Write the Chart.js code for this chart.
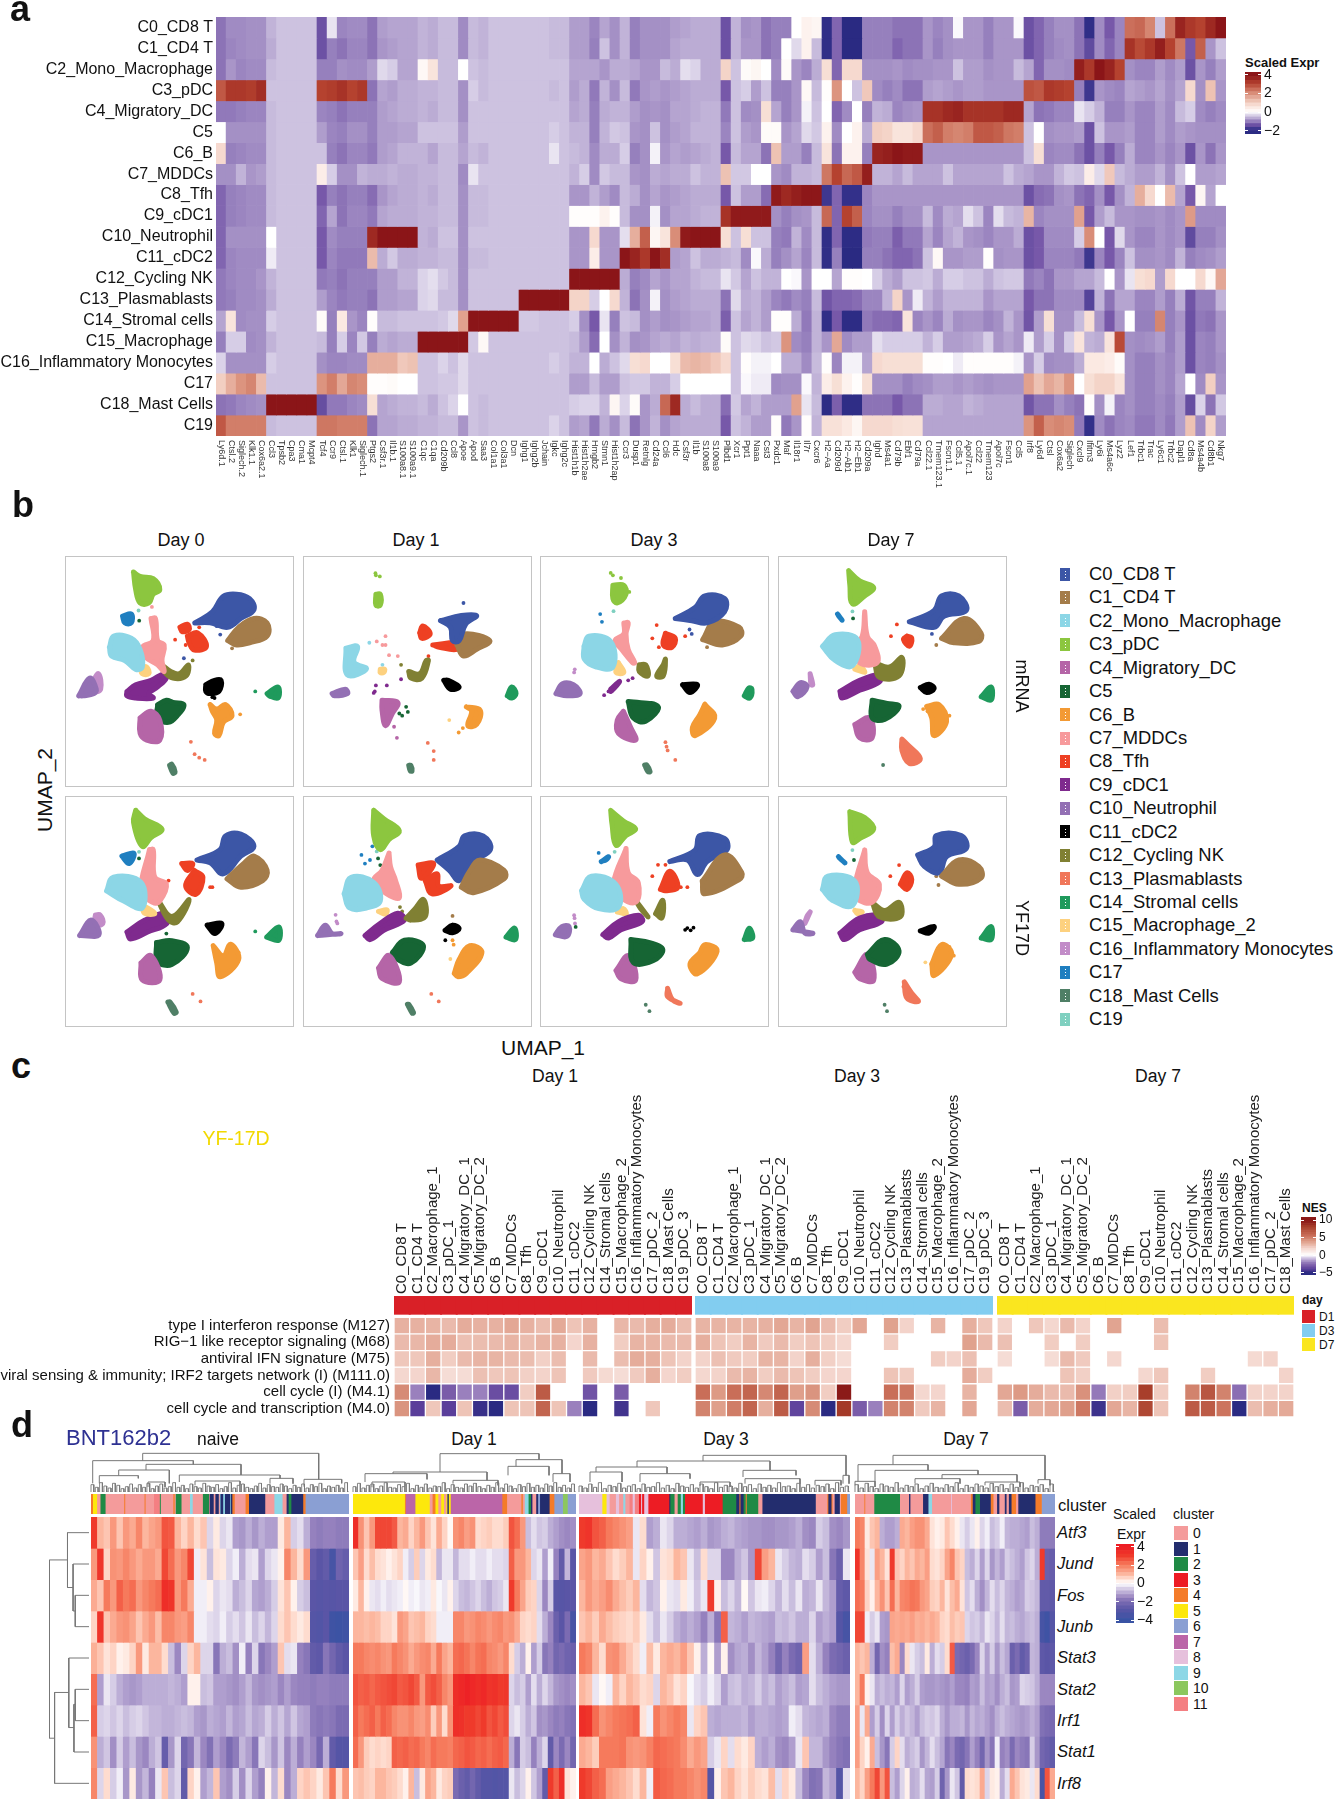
<!DOCTYPE html>
<html><head><meta charset="utf-8"><title>Single-cell figure</title>
<script src="https://cdn.jsdelivr.net/npm/chart.js@4"></script>
<style>
html,body{margin:0;padding:0;background:#fff}
body{position:relative;width:1335px;height:1800px;overflow:hidden;font-family:"Liberation Sans",Arial,sans-serif;color:#111}
.t{position:absolute;white-space:nowrap;line-height:1}
.b{position:absolute}
.c{position:absolute}
.c canvas{display:block}
</style></head><body>
<script>
/* ---------- panel a ---------- */
const clusterNames=["C0_CD8 T","C1_CD4 T","C2_Mono_Macrophage","C3_pDC","C4_Migratory_DC","C5","C6_B","C7_MDDCs","C8_Tfh","C9_cDC1","C10_Neutrophil","C11_cDC2","C12_Cycling NK","C13_Plasmablasts","C14_Stromal cells","C15_Macrophage","C16_Inflammatory Monocytes","C17","C18_Mast Cells","C19"];
const genes=["Ly6d.1","Ctsl.2","Siglech.2","Klk1.1","Cox6a2.1","Ccl3","Tpsb2","Cpa3","Cma1","Mcpt4","Tcf4","Ccr9","Ctsl.1","Klk1","Siglech.1","Ptgs2","Csf3r.1","Il1b.1","S100a8.1","S100a9.1","C1qc","C1qa","Cd209b","Ccl8","Apoe","Apod","Saa3","Col1a1","Col3a1","Dcn","Ighg1","Ighg2b","Jchain","Igkc","Ighg2c","Hist1h1b","Hist1h2ae","Hmgb2","Stmn1","Hist1h2ap","Ccr3","Dusp1","Retnlg","Cd24a","Ccl6","Hdc","Csf3r","Il1b","S100a8","S100a9","Plbd1","Xcr1","Ppt1","Naaa","Cst3","Pxdc1","Maf","Il18r1","Il7r","Cxcr6","H2−Aa","Cd209d","H2−Ab1","H2−Eb1","Cd209a","Ighd","Ms4a1","Cd79b","Ebf1","Cd79a","Ccl22.1","Tmem123.1","Fscn1.1","Ccl5.1","Apol7c.1","Ccl22","Tmem123","Apol7c","Fscn1","Ccl5","Irf8","Ly6d","Ctsl","Cox6a2","Siglech","Cxcl9","Ifitm3","Ly6i","Ms4a6c","Lyz2","Lef1","Trbc1","Trac","Ly6c1","Trbc2","Dapl1","Cd8a","Ms4a4b","Cd8b1","Nkg7"];
const exprC0=[-1.1,-.9,-.9,-.85,-.85,-.6,-.5,-.5,-.5,-.5,-1.4,-.2,-.95,-.9,-.9,-1.1,-.75,-.7,-.7,-.7,-.6,-.65,-.55,-.55,-.9,-.55,-.6,-.5,-.5,-.5,-.5,-.5,-.5,-.55,-.55,-.75,-.75,-.95,-.7,-.85,-.6,-1,-.85,-.85,-.85,-.75,-.7,-.65,-.65,-.65,-1.4,-.6,-.85,-.8,-1.1,-1,-1,0,.3,.2,-2,-1.2,-2.2,-2.2,-1,-1,-1,-1.1,-1.1,-1.1,-.8,-.95,-.85,-.05,-.8,-.8,-1,-.8,-.8,-.05,-1.4,-1.2,-1,-.85,-.85,-1.1,-2,-.9,-1.3,-.95,2.4,2.5,2.1,-.5,2.4,3.6,3.2,3,3.5,3.9];
const exprC1=[-1.1,-.95,-.9,-.85,-.85,-.65,-.5,-.5,-.5,-.5,-1.4,-1,-1.1,-.95,-.95,-1.1,-.8,-.75,-.7,-.7,-.6,-.65,-.55,-.55,-.9,-.55,-.6,-.5,-.5,-.5,-.5,-.5,-.5,-.55,-.55,-.75,-.75,-1,-.5,-.85,-.6,-1,-.85,-.85,-.85,-.7,-.65,-.65,-.65,-.65,-1.4,-.6,-.8,-.8,-1.1,-1,0,-.3,.3,-.55,-2,-1.2,-2.2,-2.2,-1,-1,-1,-1.2,-1.1,-1.1,-.8,-1,-.85,-.8,-.8,-.8,-1,-.8,-.8,-.8,-1.4,-1.2,-1,-.9,-.85,-1.1,-1.5,-.9,-1.2,-.95,3.3,2.9,3.2,3.7,3,2.3,-1.3,2.6,-.8,-.5];
const exprC2=[-1.1,-.8,-.95,-.9,-.9,-.55,-.5,-.5,-.5,-.5,-1,-1,-.85,-.9,-.9,-.75,-.3,-.4,-.7,-.7,.15,.6,-.55,-.55,0,-.5,-.55,-.5,-.5,-.5,-.5,-.5,-.5,-.5,-.5,-.7,-.7,-.7,-.8,-.65,-.65,-.7,-.8,-.8,-.55,-.65,-.25,-.35,-.65,-.65,.9,-.5,.1,.2,0,-.9,.1,-.8,-.95,-.65,.7,-1.2,.8,.8,-.85,-.85,-.85,-.8,-.9,-.85,-.85,-.8,-.8,-.5,-.75,-.75,-.85,-.8,-.8,-.55,-.7,-1.2,-.85,-.85,-.9,3.7,3.2,3.9,3.6,3,-.85,-.95,-.95,-.75,-.9,-.75,-1.4,-.8,-1,-.75];
const exprC3=[2.7,3.2,3.2,3.1,3.4,-.5,-.5,-.5,-.5,-.5,3,3.1,3.3,3,3.2,-1.1,-.7,-.75,-.65,-.65,-.6,-.6,-.55,-.55,-.85,-.4,-.55,-.5,-.5,-.5,-.5,-.5,-.5,-.55,-.5,-.75,-.65,-1.05,-.6,-.85,-.55,-1.05,-.8,-.75,-.8,-.75,-.7,-.65,-.65,-.65,-1.3,-.5,-.4,-.75,-.5,-1,-1,-.8,.15,-.55,.05,1.9,0,-.5,1.1,-.9,-1,-.9,-1.1,-1.1,-.75,-.7,-.75,-.8,-.75,-.75,-.8,-.8,-.8,-.8,2.8,2.7,3.2,3.1,3,-1,-1.8,-.8,-.9,-.95,-.7,-.75,-.8,-.7,-.85,-.7,.8,-.85,1.2,-.8];
const exprC4=[-1.05,-1.05,-1,-.95,-.95,-.55,-.5,-.5,-.5,-.5,-.95,-1,-1.1,-1,-1,-1,-.75,-.7,-.65,-.65,-.6,-.65,-.55,-.55,-.85,-.5,-.5,-.5,-.5,-.5,-.5,-.5,-.5,-.5,-.5,-.7,-.65,-1,-.65,-.6,-.6,-.75,-.85,-.8,-.85,-.7,-.7,-.65,-.6,-.6,-1.05,-.5,-.9,-.85,.7,-.7,-1,-.8,-.1,-.5,0,-1.2,-.9,0,-1,-.6,-.65,-.95,-.85,-.8,3.3,3.3,3.5,3.6,3.3,3.3,3.3,3.3,3.5,3.5,-.7,-1.1,-1.05,-.95,-.95,-.2,-.4,-.6,-1,-1,-.8,-.95,-.95,-.75,-.9,-.55,-.4,-.9,-1,-.9];
const exprC5=[0,-.85,-.85,-.85,-.85,-.55,-.5,-.5,-.5,-.5,-.75,-.95,-1,-.85,-.85,-1,-.75,-.75,-.7,-.7,-.5,-.5,-.5,-.5,-.75,-.5,-.5,-.5,-.5,-.5,-.5,-.5,-.5,-.4,-.5,-.6,-.6,-1,-.6,-.45,-.5,-.8,-.85,-.5,-.85,-.75,-.7,-.6,-.6,-.6,-.95,-.5,-.75,-.8,.1,.1,-.8,-.7,-.3,-.45,.3,-.9,0,.3,-.65,1,.9,.6,.6,.8,2.4,2.6,2.2,2.1,2.2,2.7,2.7,2.6,2.3,2.2,-.5,0,-.85,-.8,-.8,-.75,-1.4,-.5,-.8,-.8,-.75,-.95,-.95,-.75,-.9,-.75,-.8,-.85,-.85,-.85];
const exprC6=[.8,-1,-.95,-.9,-.9,-.55,-.5,-.5,-.5,-.5,-.5,-1,-1.1,-.95,-.95,-1.05,-.75,-.7,-.6,-.6,-.6,-.7,-.55,-.55,-.7,-.55,-.6,-.5,-.5,-.5,-.5,-.5,-.5,-.2,-.5,-.55,-.6,-.9,-.65,-.65,-.4,-1,-.85,-.1,-.8,-.7,-.75,-.7,-.65,-.6,-1.3,-.55,-.7,-.7,-1.1,1.2,-.75,-.75,-1,-.55,.6,-1.1,.3,.3,-1,3.6,3.7,3.9,3.8,3.8,-.8,-.8,-.8,-.8,-.8,-.8,-.8,-.8,-.8,-.8,-.5,.7,-.95,-.9,-.9,-1.1,-1.4,-1,-1.3,-1,-.65,-.95,-.95,-.8,-.95,-.8,-1.4,-.8,-1.1,-.8];
const exprC7=[-.85,-.85,-.6,-.8,-.75,-.55,-.5,-.5,-.5,-.5,.4,-.4,-.85,-.85,-.6,-.65,-.65,-.6,-.65,-.65,-.6,-.6,-.55,-.55,-.9,-.2,-.5,-.5,-.5,-.5,-.5,-.5,-.5,-.5,-.5,-.6,-.4,-.9,-.45,-.55,-.55,-.8,-.85,-.65,-.7,-.65,-.65,-.5,-.6,-.6,1.2,-.45,-.45,0,0,-.8,-.9,-.6,-.6,-.55,2.3,3,2.5,2.7,3.7,-.6,-.6,-.7,-.55,-.7,-.7,-.7,-.5,-.7,-.7,-.7,-.7,-.7,-.5,-.65,-.7,-.8,-.8,-.6,-.45,-.5,.4,-.3,1.1,-.55,-.65,-.75,-.75,-.6,-.85,-.5,0,-.75,-.75,-.7];
const exprC8=[-1.2,-1,-.95,-.9,-.9,-.55,-.5,-.5,-.5,-.5,-1.3,-1,-1.1,-1,-1,-1.15,-.8,-.7,-.65,-.65,-.6,-.65,-.55,-.55,-.85,-.55,-.55,-.5,-.5,-.5,-.5,-.5,-.5,-.5,-.5,-.8,-.8,-.6,-.75,-.9,-.55,-.65,-.85,-.7,-.8,-.75,-.7,-.65,-.65,-.65,-1.3,-.5,-.75,-.75,-1.15,3.8,3.5,3.7,3.85,3.85,-1.8,-1.2,-1.9,-1.9,-.95,-.8,-.8,-.8,-.8,-.8,-.8,-.8,-.8,-.8,-.8,-.8,-.8,-.8,-.8,-.8,-1.4,-1.15,-1.1,-.85,-.8,-1.1,-1.2,-.85,-1.3,-.85,-.6,1.5,.8,0,1.3,-.7,-1.3,.2,-.7,0];
const exprC9=[-1.2,-1,-.95,-.9,-.9,-.55,-.5,-.5,-.5,-.5,-1.2,-.7,-1.1,-.95,-.95,-1.05,-.7,-.65,-.65,-.65,-.6,-.6,-.55,-.55,-.85,-.55,-.55,-.5,-.5,-.5,-.5,-.5,-.5,-.5,-.5,.05,.05,.05,.3,.05,-.55,-.85,-.85,-.1,-.85,-.7,-.7,-.65,-.6,-.6,3.3,3.8,3.8,3.8,3.8,-.85,-1,-.85,-.8,-.55,2.5,-1.2,3,2.6,-.95,-.85,-.85,-1,-.85,-.85,-.55,-.9,-.65,-.7,-.25,-.5,-.95,-.25,-.55,-.6,1.4,-.95,-.85,-.85,-.85,1.7,-1.3,-.75,-.55,-.8,-.8,-.85,-.85,-.8,-.9,-.8,1.8,-.9,-.9,-.9];
const exprC10=[-1.2,-.85,-.85,-.85,-.85,0,-.5,-.5,-.5,-.5,-1.3,-.9,-1,-1,-1,3.5,3.9,3.9,3.9,3.9,-.6,-.65,-.5,-.5,-.85,-.5,-.5,-.5,-.5,-.5,-.5,-.5,-.5,-.5,-.5,-.8,-.8,.8,-.8,-.8,-.25,1.5,2.6,.2,.6,2,3.8,3.9,3.9,3.9,.7,-.5,.7,-.5,-.5,-1,-1.05,-.6,-.9,-.55,-2,-1.2,-2.1,-2.1,-1.05,-1,-1,-1.25,-1.05,-1.05,-.7,-.95,-.7,-.6,-.8,-.85,-.95,-.8,-.8,-.65,-1.4,-1.3,-.9,-.9,-.9,-.4,2,0,-1.3,-.3,-.8,-.95,-.95,-.8,-.9,-.8,-1.5,-1,-1,-.85];
const exprC11=[-1.2,-.95,-.9,-.9,-.9,-.15,-.5,-.5,-.5,-.5,-1.3,-.95,-1.05,-1.05,-1.05,1.3,-.65,-.45,-.65,-.65,-.6,-.6,-.55,-.55,-.85,-.55,-.55,-.5,-.5,-.5,-.5,-.5,-.5,-.5,-.5,-.8,-.8,.4,-.8,-.8,3.9,3.6,3.2,3.9,3.4,-.75,-.7,-.5,-.65,-.65,-.6,-.55,-.9,-.05,-.65,-1,-.85,-.7,-.95,-.55,-2,-1,-2.2,-2.2,-1,-1,-1.1,-1.2,-1.2,-1.1,-.5,.15,-.8,-.8,-.75,-.75,.05,-.85,-.8,-.8,-1.4,-1.3,-.95,-.95,-.95,-1.05,-1.8,-.95,-1.3,-.95,-.5,-.85,-.85,-.8,-.9,-.6,-1,-.9,-.85,-.75];
const exprC12=[-1.05,-.95,-.9,-.9,-.8,-.6,-.5,-.5,-.5,-.5,-1.05,-1,-1.1,-1,-1,-1,-.75,-.75,-.6,-.6,-.35,-.25,-.45,-.55,-.85,-.5,-.5,-.5,-.5,-.5,-.5,-.5,-.5,-.5,-.5,3.9,3.9,3.9,3.9,3.9,-.65,-1,-.9,-.7,-.8,-.7,-.7,-.6,-.55,-.55,-.2,-.45,-.7,-.5,-.6,-.6,0,-.05,-.8,0,0,-.7,.05,.05,0,-.4,-.65,-.75,-.5,-.5,-.45,-.65,-.4,-.4,-.5,-.5,-.65,-.5,-.45,-.45,-1.05,-.95,-1.1,-.8,-.8,-.7,-.7,-.55,0,-.8,-.2,.7,.8,-.75,.8,0,0,.8,.15,1.6];
const exprC13=[-1.05,-1,-.9,-.9,-.85,-.65,-.5,-.5,-.5,-.5,-.75,-.95,-1.05,-1,-1,-1.1,-.75,-.75,-.7,-.7,-.35,-.3,-.55,-.55,-.85,-.5,-.5,-.5,-.5,-.5,3.9,3.9,3.9,3.9,3.9,.9,.9,-.4,0,.8,-.6,-1.1,-.85,-.1,-.85,-.75,-.7,-.65,-.65,-.65,-1.1,-.3,-.65,-.6,-.75,-.95,-1.05,-.9,-1,-.55,-1.35,-1.2,-1.2,-1.15,-.95,-.95,-.6,.9,-.8,-.15,-.6,-.75,-.6,-.6,-.6,-.6,-.8,-.7,-.7,-.7,-1.3,-1.1,-1.1,-.9,-.9,-.9,-1.6,-.6,-1.1,-.7,-.7,-.95,-.95,-.75,-1,-.65,-1.35,-1,-1,-.6];
const exprC14=[-.7,.6,-.9,-.85,-.85,-.4,-.5,-.5,-.5,-.5,.1,-1,.5,-.8,-.95,.05,-.55,-.55,-.5,-.5,-.5,-.5,-.45,-.3,1.7,3.9,3.9,3.9,3.9,3.9,-.45,-.45,-.5,-.5,-.5,-.4,-.85,-1.3,-.2,-1,-.5,-.55,-.85,-.75,-.85,-.8,-.75,-.7,-.7,-.65,-1.25,-.5,-.7,-.6,-.75,.05,.05,-.65,-1.05,-.6,-2,-1.3,-2.1,-2.1,-1.05,-1.15,-1.15,-1.2,.6,-.95,-.8,-.95,-.65,-.85,-.8,-.8,-.95,-.85,-.6,-.8,-1.35,-.75,.7,-.85,-.85,-.55,.7,-.8,-1.3,-.8,0,-1,-1,2.1,-1,-.8,-1.4,-1.05,-1.1,-.8];
const exprC15=[-1,-.4,-.4,-.9,-.85,-.6,-.5,-.5,-.5,-.5,-.55,-1,-.4,-.95,-.45,-1,-.65,-.7,-.65,-.65,3.9,3.9,3.9,3.9,3.9,-.45,.15,-.5,-.5,-.5,-.5,-.5,-.5,-.5,-.5,-.55,-.75,-1.15,0,-.85,-.6,-.85,-.8,-.7,-.65,-.7,-.6,-.65,-.6,-.6,.1,-.5,-.3,-.35,-.5,-.45,1.9,-.9,-1,-.6,-.8,1.6,-.9,-.75,-.75,-.25,-.4,-.4,-.4,-.4,-.6,-.4,-.75,-.75,-.7,-.65,-.4,-.8,-.7,-.8,-.15,-.75,-.4,-.85,-.4,.6,-.6,-.65,.6,2.9,-.85,-.9,-.85,-.75,-1,-.75,-1.4,-.95,-1,-.8];
const exprC16=[-.35,-.85,-.85,-.85,-.85,-.4,-.5,-.5,-.5,-.5,-.85,-.95,-.95,-.9,-.9,1.5,1.5,1.5,1.1,1.2,-.5,-.5,-.35,-.5,-.3,-.5,-.5,-.5,-.5,-.5,-.5,-.5,-.5,-.4,-.5,-.6,-.6,0,-.65,-.5,-.3,.7,.8,0,0,.7,1.3,1.4,1.3,1.1,.8,-.5,.05,-.1,-.1,0,-.65,-.65,-.9,-.55,.05,-.95,-.1,-.1,-.7,.8,.7,.7,.7,.7,.05,.05,0,-.15,.05,.05,.05,.05,.05,-.1,-.8,-.4,-.9,-.85,-.85,-.65,.5,.5,.4,.1,-.85,-1,-1,-.85,-.95,-.75,-1.4,-.95,-1,-.85];
const exprC17=[1,1.5,1.9,2.1,1.3,-.5,-.5,-.5,-.5,-.5,1.9,2.2,1.6,2.1,2,.05,.05,.1,0,0,-.5,-.5,-.45,-.45,-.3,-.5,-.5,-.5,-.5,-.5,-.5,-.5,-.5,-.5,-.5,-.75,-.75,-.55,-.75,-.75,-.5,-.45,-.45,-.6,-.6,-.4,0,0,0,0,0,-.5,-.05,-.15,-.15,-.9,-.85,-.85,-.05,-.6,.4,.7,.3,.05,.7,-.85,-.85,-.85,-1,-.9,-.85,-.75,-.75,-.8,-.75,-.8,-.85,-.8,-.8,-.8,1.7,1.2,1.6,1.4,1.9,0,.7,.9,.9,.6,-.85,-1,-1,-.85,-.95,-.7,0,-.9,1,-.8];
const exprC18=[-1.1,-1.05,-.95,-.9,-.85,3.9,3.9,3.9,3.9,3.9,-1.45,-1.05,-1.05,-.95,-.9,.7,-.7,-.65,-.6,-.6,-.55,-.65,-.5,-.35,0,-.5,-.55,-.5,-.5,-.5,-.5,-.5,-.5,-.5,-.5,-.4,-.35,-.35,-.6,.2,-.35,.1,-.8,-.65,2.5,3.5,-.65,-.55,-.65,-.65,-1.15,-.45,-.7,-.6,-.75,-.75,-.75,1.7,-.2,-.55,-2.1,-1.25,-2.05,-2.05,-1.1,-1.1,-1.1,-1.3,-1.1,-1.1,-.65,-.65,-.7,-.7,-.6,-.65,-.7,-.7,-.7,-.7,-1.35,-1.1,-1.1,-.85,-1,-1.1,.05,-.85,-.1,-.95,-.85,-1,-1,-.9,-1,-.75,-1.45,-.35,-1.1,-.45];
const exprC19=[2.7,2.2,2.2,2.2,2.2,-.55,-.5,-.5,-.5,-.5,2.3,2.3,2.2,2.2,2.2,-1.1,-.7,-.7,-.65,-.65,-.6,-.6,-.55,-.55,-.8,-.5,-.55,-.5,-.5,-.5,-.5,-.5,-.5,-.35,-.5,-.75,-.7,-1.05,-.65,-.85,-.55,-1.1,-.8,-.6,-.85,-.7,-.65,-.65,-.65,-.65,-1.3,-.5,-.6,-.75,-.75,.05,-1.05,-.8,.05,-.6,.65,.65,.5,.2,.8,.8,.8,.7,.65,.65,-.7,-.7,-.7,-.7,-.7,-.7,-.7,-.7,-.7,-.7,1.9,2.6,2,2.1,2,-1.05,-1.9,-.9,-1.1,-.95,-.9,-1.05,-1.05,-.9,-1.05,-.75,1.2,-.9,.9,-.75];
const exprRows=[exprC0,exprC1,exprC2,exprC3,exprC4,exprC5,exprC6,exprC7,exprC8,exprC9,exprC10,exprC11,exprC12,exprC13,exprC14,exprC15,exprC16,exprC17,exprC18,exprC19];
const stopsA=[[-2.2,"#2a2a82"],[-1.9,"#33308a"],[-1.3,"#7758a9"],[-1,"#9680bd"],[-.8,"#a995c8"],[-.5,"#cdc2e0"],[-.2,"#e9e4f1"],[0,"#ffffff"],[.5,"#fbe9e2"],[1,"#f2cfc2"],[2,"#d98d78"],[3,"#b5422f"],[3.9,"#8b1518"]];
const levelsA=[-2.32,-2,-1.6,-1.2,-.8,-.5,-.25,0,.3,.6,1,1.4,1.8,2.2,2.6,3,3.4,3.8,4.29];

/* ---------- panel b ---------- */
const umapLegend=["C0_CD8 T","C1_CD4 T","C2_Mono_Macrophage","C3_pDC","C4_Migratory_DC","C5","C6_B","C7_MDDCs","C8_Tfh","C9_cDC1","C10_Neutrophil","C11_cDC2","C12_Cycling NK","C13_Plasmablasts","C14_Stromal cells","C15_Macrophage_2","C16_Inflammatory Monocytes","C17","C18_Mast Cells","C19"];
const umapColors=["#3c56a6","#a47c4a","#8cd6e6","#8cc63f","#b565a7","#166534","#f39a34","#f79a9c","#ee4023","#7f2a8e","#9370b4","#000000","#808033","#f0775a","#1f9a5c","#fdd17f","#c28cc8","#1f7fc0","#4f7f66","#7fd0c0"];
const blobsM0=[[17,[24,25,28,24,28,28,25,28]],[2,[18,39,20,34,28,35,32,40,33,48,30,49,25,45,19,43]],[7,[37,26,39,26,40,36,43,38,42,45,43,50,40,47,34,43,33,39,38,36]],[3,[29,5,32,7,38,8,41,13,38,15,36,19,32,19,30,13]],[1,[72,36,77,30,84,26,90,28,90,34,82,37,76,38]],[0,[57,28,65,23,70,16,76,15,82,17,84,22,78,26,72,30,64,28]],[8,[50.2,30,53.6,28.6,54.4,31,51.3,32]],[8,[53.6,34,58.3,32.5,62.3,38.7,56.8,40.3,54.4,37]],[15,[32,48,35,48,36,51,33,51]],[12,[42,47,46,50,50,51,54,47,53,52,47,53,43,50]],[9,[26,59,30,56,37,54,43,51,44,53,40,57,36,60,38,62,30,62,26,61]],[10,[4,61,9,53,12,58,11,60,6,61]],[16,[10,55,13,51,14,58,11,59]],[11,[62,56,66,54,69,54,68,59,64,60,62,59]],[14,[90,60,95,57,95,62,91,61]],[4,[32,71,37,68,41,72,41,81,35,81,32,78]],[5,[40,65,44,63,47,64,52,65,49,70,45,73,40,71]],[6,[64,65,67,67,71,65,74,70,70,73,68,79,66,78,67,72,65,68]],[18,[45.5,92.5,46.5,92,48,95.5,47,96]]];
const dotsM0=[[7,37.1,17.7],[7,37.4,20.8],[8,48,35.6],[8,52.8,38],[8,59,30],[0,68.6,33.3],[0,67,29.5],[1,74,39.5],[5,31.6,27],[13,55.2,81.8],[13,56.9,87.4],[13,59,89],[13,61.5,90],[6,77.7,69.4],[16,39.5,67.2],[11,65,61.6],[11,66,62],[14,84.6,59],[19,31.3,22.4],[12,56,45],[0,52,44],[5,39,71]];
const blobsD1m=[[3,[31,15,33,15,33,20,31,20]],[2,[17.3,39.5,22.6,38.7,21,45.7,26.7,48.8,18,51.6]],[0,[60.5,27,70,24.7,77,24.7,72,28.6,69,36,66,36,65,30]],[1,[68,38,71,33,83,36,77,40,71,43]],[8,[51,32.5,52.4,29.4,55.8,33,52,35]],[8,[57,38,68.8,37,68,40,60,39]],[12,[46,50,51,51,54,45,55,45,52,53,47,53]],[10,[11,60,17,58,18,60,12,61]],[11,[62,54,64,54,69,57,65,58]],[14,[91,61,93,57,95,60,93,62]],[4,[33.8,63,41,64,38.5,69,35.4,74.5,33.8,67.5]],[6,[72.3,66,78.6,67.5,77,74,73,74.5,74.7,68]],[18,[46,92.5,47,92.5,47.5,95,46.7,95]],[15,[33,49,35,49,34.5,50.5,33,50.5]]];
const dotsD1m=[[3,30.8,5.5],[3,31,6.5],[3,32.8,7],[7,31.4,36.4],[7,35.4,38],[7,37,42.6],[7,41,43],[7,35.4,34],[7,34,38],[9,31,56.3],[9,36,56.3],[9,30,59.7],[9,30.5,59],[9,42.5,53.5],[5,41.7,69],[5,44.8,66],[5,45.6,68.3],[5,43,70],[13,54.7,82.3],[13,57.4,86],[13,57.4,90],[4,39.3,75],[4,40.6,80],[6,70.7,75.6],[6,68.8,77.6],[15,64.5,72],[0,71,19],[2,28,37],[12,42.5,47],[2,34,47],[8,55,43]];
const blobsD3m=[[3,[31,11,36,11,37,15,33,19,31,17]],[2,[17.8,38.6,20,34,30,36.4,31,48,23.4,48,18,44.5]],[7,[36,28,38,28,37,33,38,40,41,46,40,46,35,40,32,36,36,33]],[0,[59.5,26,68.5,21,73,15.8,82,17,82,23,74,28,67,27]],[1,[72,35.6,77.5,27.5,88.7,30,89.4,34,81,38]],[8,[55,32.7,59.5,35,58,39,54,38]],[12,[43,47,46,47,47,52,43,50]],[12,[54,47,55,44.5,54,52,51,52]],[9,[30,58,34,54.5,33,56,30,59]],[10,[5,60,8,55.5,13,56,16,60,10,61]],[11,[62.8,56,69.6,56,66.2,59.5]],[14,[91,61,93,57.5,94.5,58,93.5,62]],[5,[38,63.6,51.6,65.8,46,72.5,40.3,71]],[4,[35.8,68,39,75,41.4,81,33.5,78,33,72]],[6,[73,64.8,77.5,71,68.5,79,67.3,75.4,70.7,69.5]],[15,[33.5,46,36,50.4,32.4,50.4]],[18,[45.5,92.3,46.5,92.3,48,95.3,47,95.3]]];
const dotsD3m=[[3,30,5.4],[3,31,6.5],[3,34.7,7.7],[3,38.5,14],[13,55,82],[13,55.5,84],[13,56,85.7],[13,59.5,90],[17,25.2,24],[17,26,27.5],[19,31.3,22.7],[8,49,35],[8,51,29],[9,27,60.7],[9,29,59],[9,40,53],[9,38,54],[8,52,39],[8,64,34],[16,13.3,50.4],[16,13.6,49],[1,74,39],[0,67,33],[0,66,31]];
const blobsD7m=[[2,[18,38.6,23.8,33.4,34,35.6,31.7,47.4,23.8,45]],[7,[37.3,23,38.5,34,41.9,38.6,43,46,35,46,32.8,38.6,36.2,34]],[3,[30,4.4,35,9,41.4,12,37.3,15.8,31.7,19.4,30.5,10.6]],[1,[72.4,35,82.6,26,90.5,32.7,89.4,36.4,78,37]],[0,[57.7,27.5,69,22.4,72.4,15.8,80.3,15.8,83.7,22.4,73.5,25,69,30]],[8,[56.6,34,58.8,35,57.7,38.6,55,35.5]],[12,[41.9,46,48.6,48,54.3,43.7,53,52,44,52.6]],[9,[26,59,35,54,44,51.5,44,54.8,35,58.5,27,62]],[10,[4.5,59,8,55,11,57,6.8,61.4]],[16,[12.4,51,13.6,56,12.8,56]],[11,[62.7,57.3,66.7,55.8,69,57.7,65.6,59.5]],[14,[90.5,61.4,95,57,95,62.9]],[5,[40.7,63,47.5,64.4,53,65.8,46.4,71.7,40.7,71]],[4,[32.8,74,39.6,71,40.7,80,35,80]],[6,[65.6,65.8,71.3,65,74.7,72.5,69,79,67.9,71]],[13,[54.3,80.6,56.6,82.8,62.7,89.4,57.7,91.6,54.3,85.7]],[15,[32.8,48.9,37.3,50.4,35,47.5]],[17,[24.9,24,27,26.8,25.5,25]]];
const dotsD7m=[[18,45.7,92.3],[19,31.7,22.8],[8,52,28.7],[8,49.3,34],[5,32,26],[0,68,33],[1,70,38],[6,66,68],[6,76,70],[6,64,67]];
const blobsY0=[[17,[23.7,25,29.2,23.6,27,28.3]],[2,[16.7,40.7,19.8,34.5,32.4,36.8,33,48.4,24.5,45.3]],[7,[36.3,22,38,22,38.7,34.5,44,37.6,41,45.3,38,46,32.4,40.7]],[3,[30,4.2,34,8,42,12.7,37,16.6,33,20.5,29,9.6]],[1,[71.7,35.2,79.6,28,84.3,25,90,31.4,88,36,78,39]],[0,[58,26.7,68.5,22,71,15.8,78,15,84,20.5,78,25,70,33,64,28]],[8,[56.8,31.4,60.7,34.5,57.5,42.2,52.8,38.4]],[8,[51,28.3,56,28.3,53.6,31.4]],[15,[33,47,38.7,50.8,34,50.8]],[12,[40,44.6,46.5,52.3,54.4,44.6,49,54.7,45,53.9]],[9,[26,59.3,34,54,43.4,50.8,44.2,55.4,35.5,59.3,27.7,62.4]],[10,[4.4,60.9,9.6,53.9,13.2,60.6]],[16,[11.6,51.6,13.8,51.6,15,55.4,11.2,56]],[11,[62.6,56.2,69.3,55.4,66.2,60]],[14,[89.8,61.6,95.3,57,95.3,63]],[4,[32.4,73.3,37,70,41,81,33,81]],[5,[39.5,64,46.5,63.2,53.6,66.3,46.5,74,40,72.5]],[6,[65.4,65.5,70,70,73.3,64.8,77,71.7,68.6,79.5,67,73.3]],[18,[44.7,91,45.7,91,48.5,95.5,47.5,96]]];
const dotsY0=[[13,56,87.3],[13,59.6,90.7],[19,31.5,23],[5,31.5,26],[8,45,36],[8,64,39],[8,65,39],[14,84.6,59],[6,77,68.5],[5,44,60],[5,37,76]];
const blobsY1=[[2,[16.5,42,19.7,34.5,30,36.8,33,45.3,26.7,48.4,19,48.4]],[7,[37,23.6,37.7,29.8,40,36,41.7,43.8,36,42,30,36,33.8,31.4]],[3,[30,4.2,34.6,8,41.7,13.5,37,17.4,33,22,30,15.8]],[1,[70,39,74,31.4,78.6,26.7,89.6,31.4,89.6,35.2,75.5,41.5]],[0,[59,26.7,69,20.5,71.5,15.8,80,15.8,83.3,22,74,28.3,69,36,64.5,31.4]],[8,[53.5,36,59,33,59.7,38.4,65.3,38.4,56.6,42]],[8,[50.3,29,57.4,28.3,51.9,35]],[12,[44.8,53,48.7,49,52.7,44.6,53.5,52.3,47,53.9]],[9,[26,60.9,33,55.4,41,50.8,44,53.9,34.6,58.5,28.3,62.7]],[10,[4.4,60.9,7.9,56.2,11,60,15,60]],[11,[62.6,58.5,66,56.2,69,57.8,66,59.6]],[14,[90.4,61.6,94.3,57.5,94.7,62.7]],[4,[32.2,75.6,37,70,41.7,81.8,33.8,80.3]],[5,[38.5,68.6,44,63,52.7,65.5,47,73.3,41,71.7]],[6,[66.8,78,69,71.7,73.9,65.5,79.4,68.6,72.3,78,68.4,79.5]],[15,[32.2,50,36,49.2,35.4,51.2]],[18,[45.4,92,46,92,48.2,95.8,47.6,96]]];
const dotsY1=[[16,12.6,51.5],[16,13.4,55.4],[16,13,54.5],[13,56.3,87.3],[13,59.7,90.7],[17,24.4,24.4],[17,29.4,20.5],[17,26,28.3],[17,28.3,26.7],[19,31.4,22.8],[5,32,26],[5,33,29],[12,42,48],[12,43,50],[11,62.7,63],[11,66,56],[1,66,52],[6,66,63],[6,66.5,65],[15,65,71.5]];
const blobsY3=[[2,[16.7,40.6,21.2,34,32.4,37.7,33.6,48,24.5,48.7,17.8,44.3]],[7,[37,21.5,38,32.5,42.6,37,41.4,45.8,33.6,42.9,31.3,37]],[3,[30,4.3,35.8,9,41.4,12.7,37,15.6,32.4,20,30.6,10.5]],[1,[71.8,36.2,82,24.4,89.9,32.5,88.7,35.5,73,42]],[0,[57,27.4,68.5,22.2,70.7,15.6,82,17,83,22.2,74,27.4,69.6,33.3,65,26.7]],[8,[52.7,40,57,31.8,60.6,39,55,40.6]],[12,[41.4,45,43.7,48.7,47,52.4,46,51]],[12,[50.5,51,53.8,45,53.4,52.9]],[9,[26.4,60.5,33.6,54.6,42.6,51.7,44.4,54.6,34.7,58.3,29,62]],[10,[4.7,60.5,7.7,56.8,11,56.8,10,61.3]],[14,[91,62.7,93.2,57.6,94.8,62]],[5,[39.2,62.7,48.2,64.2,53.8,67.2,49.3,72.3,40.3,73]],[4,[32.4,76.7,38,70,41.4,81,34.7,80.4]],[6,[70.7,68.6,73,65,78.6,67.9,69.6,78.2,66.2,73.8]],[13,[56,84.8,58.3,90,61.7,91.5,56,88.5]],[15,[33,50.2,35.8,48.7,37,51]],[17,[25.7,27.4,29,25.2,28,26.5]]];
const dotsY3=[[16,13.3,51.7],[16,13.7,55.4],[16,13.5,53],[11,64,58.3],[11,65,57.5],[11,67.8,57.3],[11,66.5,58.5],[18,46,92.2],[18,47.7,95.1],[19,31.8,23],[17,24.5,23.5],[8,51.6,28.9],[8,55,28.9],[8,49,34],[8,65,39],[8,62,39],[5,14,57],[0,54,45]];
const blobsY7=[[2,[18,40,20.4,34,32.8,36.2,31.7,47.3,22.6,45]],[7,[37.3,22.2,38.5,32.5,44,37.7,40.7,45.8,34,44.3,32.8,38.4]],[3,[30.5,4.9,37.3,7.5,41.4,12.7,35,17,31.7,18.6]],[1,[72.4,34,80.3,26.7,89.4,29.6,90.5,34.8,80.3,37.7]],[0,[61.5,24.4,69,20.8,70,15.6,81.4,15.6,83.7,21.5,74.7,25.2,71.3,32.5,64.5,29.6]],[8,[53.6,37.7,56.6,32.5,58.8,35.5,56.6,40]],[12,[40.7,45.8,46.4,49.5,53,45.8,53.6,52.4,44,52.4]],[9,[26,59.8,35,53,44,51.7,45,54.6,35,58.3,28,62.7]],[10,[4.5,58.3,7.9,54.6,10,59.8,13.6,59.8]],[16,[12.4,50.2,10,55.4,11,52]],[11,[62.7,58.8,69,56.8,66.7,59.8]],[14,[90.5,62,95,56.8,95,62.7]],[5,[38.5,69.4,46.4,62.7,53,67.9,47.5,73.8,39.6,71.6]],[4,[32.8,77.5,38.5,69.4,41.4,81.1,35,80.4]],[6,[67.9,73.8,72.4,65,77,69.4,69,79]],[13,[55.4,81.9,58.8,87,61.8,90.7,56.6,89.2]],[15,[32.8,49.5,36.2,50.2,34,51]],[17,[25.3,25.2,28.3,28,26,26]]];
const dotsY7=[[18,46.4,92.2],[18,47.5,95.1],[19,31.7,22.2],[5,32.4,26.7],[15,65,73],[8,49,34],[8,53,29],[1,70,34],[1,71,38],[6,76,66],[6,78,70],[13,55,84]];

/* ---------- panel c ---------- */
const pathways=["type I interferon response (M127)","RIG−1 like receptor signaling (M68)","antiviral IFN signature (M75)","viral sensing & immunity; IRF2 targets network (I) (M111.0)","cell cycle (I) (M4.1)","cell cycle and transcription (M4.0)"];
const colsDay1=["C0_CD8 T","C1_CD4 T","C2_Macrophage_1","C3_pDC_1","C4_Migratory_DC_1","C5_Migratory_DC_2","C6_B","C7_MDDCs","C8_Tfh","C9_cDC1","C10_Neutrophil","C11_cDC2","C12_Cycling NK","C14_Stromal cells","C15_Macrophage_2","C16_Inflammatory Monocytes","C17_pDC_2","C18_Mast Cells","C19_pDC_3"];
const colsDay3=["C0_CD8 T","C1_CD4 T","C2_Macrophage_1","C3_pDC_1","C4_Migratory_DC_1","C5_Migratory_DC_2","C6_B","C7_MDDCs","C8_Tfh","C9_cDC1","C10_Neutrophil","C11_cDC2","C12_Cycling NK","C13_Plasmablasts","C14_Stromal cells","C15_Macrophage_2","C16_Inflammatory Monocytes","C17_pDC_2","C19_pDC_3"];
const colsDay7=["C0_CD8 T","C1_CD4 T","C2_Macrophage_1","C3_pDC_1","C4_Migratory_DC_1","C5_Migratory_DC_2","C6_B","C7_MDDCs","C8_Tfh","C9_cDC1","C10_Neutrophil","C11_cDC2","C12_Cycling NK","C13_Plasmablasts","C14_Stromal cells","C15_Macrophage_2","C16_Inflammatory Monocytes","C17_pDC_2","C18_Mast Cells"];
const n=null;
const nesDay1=[[3.1,3.1,3,2.8,3.3,3.1,3.1,3.5,3.1,2.7,3.4,2.5,3.1,n,2.9,2.8,3.2,3.3,2.7],[2.8,2.9,3.3,3.3,2.6,2.7,2.8,3,2.7,3,3.1,1.9,3.1,n,2.2,3,3,2.8,2.8],[2.4,2.4,3.2,2.2,2.8,3,3,2.8,2.7,2.1,2.7,n,2.8,n,2.7,3.3,3.2,2.5,2],[1.8,1.9,2.9,1.6,1.6,2.6,2.4,2.5,2.1,2,2.5,n,2.3,1.7,1.6,2.3,3.2,1.9,2.2],[4.5,-2,-5,-3,-2,-2,-3.5,-3.5,2.2,6.5,n,n,-3.3,n,-3,n,n,n,n],[4.2,-4,2.4,-4,2.5,-4.7,-5,2.5,2.5,6,2.5,-2,-5,n,-4.5,n,2.4,n,n]];
const nesDay3=[[3,3,3,3,3.1,3.5,3,3.6,2.8,2.2,3.5,n,3.7,2,n,3,n,3.2,2.4],[3.2,2.5,2.2,3,2.3,2.8,2.2,2.5,2.2,1.8,n,n,2.2,n,n,n,n,3.7,2.8],[2,2.6,2.3,2.2,3,3,2,3.2,2.1,1.6,n,n,n,n,n,2.2,2,2.6,n],[1.8,2,2.8,3,2.2,2.8,2.5,2.2,1.9,1.9,n,n,2.5,2.2,n,n,n,3.3,2.2],[5.5,4,5.5,6,4.6,6,3.8,4.2,2.2,9.5,n,n,5.5,5.2,1.8,1.9,n,3,n],[4.8,3.8,5,6,3.2,6.5,-3.8,4.5,-5,8.2,-3,-2,4.8,4.8,2.3,3,n,3.5,n]];
const nesDay7=[[2,n,2.4,1.8,2.8,2,n,3.6,n,n,2.7,n,n,n,n,n,n,n,n],[2.6,n,n,2.2,n,2.2,n,n,n,n,2.5,n,n,n,n,n,n,n,n],[1.6,n,n,1.6,2.8,2.3,n,1.8,n,n,n,n,n,n,n,n,1.7,2,n],[n,n,n,n,2.5,2.1,n,n,n,1.8,2.4,n,n,2.2,n,n,n,n,2],[3.5,4,3.3,2.8,2.8,4.3,-2.2,2.1,2.2,8,2.2,n,4.8,6.8,4.8,-2.5,2,2,2],[2.7,-3,3.3,3.5,3.8,5.2,-4.6,3.5,3,7.5,2.5,n,6.5,6.5,5.3,-5,2.7,3.2,3.4]];
const stopsC=[[-5,"#2a2a82"],[-4,"#5a3e9a"],[-3,"#7a5ca9"],[-2,"#9a80bd"],[-1,"#cbbfe0"],[0,"#ffffff"],[2,"#f3d3ca"],[3,"#e8b4a4"],[4,"#dd9a85"],[5.5,"#c96e58"],[8,"#a83f2b"],[9.5,"#8b1a18"]];
const levelsC=[-5.57,-5,-4.5,-4,-3.5,-3,-2.5,-2,-1.5,-1,-.5,0,.5,1,1.5,2,2.5,3,3.5,4,4.5,5,5.5,6,6.5,7,7.5,8,8.5,9,9.5,10,10.85];

/* ---------- panel d ---------- */
const dGenes=["Atf3","Jund","Fos","Junb","Stat3","Stat2","Irf1","Stat1","Irf8"];
const dClusterColors=["#f49b9b","#232d6e","#1f8a45","#ed1c24","#f47b29","#fde80c","#8a9fd3","#bb65a8","#e6c0dc","#8dd7e6","#8cc75e","#f47f82"];
const naive=[[3,1,.8,1.5,.8,1.5,1.2,1.8,1,1.3,1.5,2.6,2.5,1,.6,1,.5,.8,-.5,.3,-.5,-.3,-1.2,-1.3,-1,-1.3,-1,-1.2,-1.2,.3,1,-.6,-.4,-1,-1.6,-1.7,-1.6,-1.6,-1.7,-1.7],
[1.5,3.2,.6,1.6,1.5,1.8,1.5,1.2,1.5,1.5,1.2,2.8,2.2,1.5,1.8,2.8,-.2,.4,-.8,.4,.3,-.5,-.2,-1,-.4,-.3,-1.2,-.5,-.3,.2,1.8,1,.5,1.5,-2.5,-2.8,-2.6,-3.5,-2.3,-2.5],
[1.2,.8,2,1.5,2.4,2,2.2,1.5,1.8,2,2.2,3.4,3.2,1.5,2,1.2,-.2,-.2,.2,-.5,-.3,-.4,-1,-.8,-.5,-1.1,-1.2,-1,-.6,.4,.8,.2,-.6,-.8,-2.8,-2.9,-2.8,-2.9,-2.8,-2.8],
[.6,3.2,.8,1.2,1.5,1.6,1.3,.8,1.2,1.5,.9,1.8,1.8,1.5,1.4,1.8,-.2,-.2,-.4,-.5,-.2,-.6,-.4,-.7,-.3,-.8,-.5,-.9,-.5,.5,.8,.5,.3,.5,-3,-3.1,-2.8,-3.8,-3.9,-3.8],
[1.1,.8,.4,.6,.2,.3,.6,1.5,.3,1,1,.5,-.8,-1.5,-.5,.6,1,-.5,-.5,-1.8,-1,-.8,-1.4,-.2,-1.6,-.5,-1.8,-1.5,-1.2,.8,-.4,-.3,-1.6,-1.8,-2.6,-2.7,-1.8,-2.2,-2.6,-2.8],
[2.2,-1.2,-.3,-.6,-1,-1.2,-1.3,-1.2,-1,-1,-1,-1,-.9,-1,-1.2,.2,.2,-.8,-.7,-1.2,-1.2,-1.3,-1.4,-1.2,-.9,-1.3,-1.4,-1.3,-1.2,-1.5,-1.2,-1.5,-1.6,-1.6,-1.7,-1.6,-1.6,-1.7,-1.7,-1.7],
[2.4,-.6,-.5,-.7,-.5,-.8,-.6,-.5,-.7,-.9,-.9,-1,-1,-.9,-.8,-.9,-1.2,-1.3,-1,-1.1,-1.2,-.9,-1.2,-1.1,-.8,-1.1,-1,-.6,-1,-.7,-1.1,-.7,-1.1,-1.2,-1.7,-1.8,-1.7,-1.8,-2,-2],
[1.6,-1,-.7,-1.4,-.6,-1.2,-.8,-1.3,-1.5,-1,-.7,-2.5,-1.3,-.5,-2.2,-1.8,-.9,-1.5,-1.9,-1.2,-1.5,-2,-1.7,-.9,-1.2,-1.8,-.5,-.8,-1.3,-.7,-1.5,-1,-1.6,-1.2,-1.5,-2.1,-1,-2.6,-3,-3],
[1.8,-.5,.5,-.6,-.2,-1.3,.3,-1.3,-.9,-1.6,-.3,.8,-.8,-.5,-2.6,.6,.2,-1.2,-.9,.8,-1.2,-1.4,-.6,-1.4,-.5,-1.2,-1.6,.2,-.9,.5,-1.5,-1,.6,.8,.6,.3,.8,2,.5,1.5]];
const day1=[[3.4,1.6,.8,1.5,2.8,2.8,2.8,2.5,1,1.2,.6,1,1.5,.8,.4,1.2,.6,.1,1.6,1.8,1.4,1.6,.5,.6,.7,.5,.5,.7,2.6,2.2,1.5,-.8,-.4,-.7,-.6,-1,-1.2,-1.4,-1.5,-1.4],
[.8,1.4,.5,.9,.5,.4,.2,.4,.6,-.2,-.6,.7,-.5,.3,.5,-.9,-.3,-.3,-.9,-.4,-.4,-.2,-.4,-.4,-.2,-.4,-.4,-.5,2.4,1.5,1.5,1,-.5,-.3,-1.2,-.2,-1.6,-2.6,-.9,-2.8],
[.3,1,.2,-.3,-.4,-.2,-.4,-.3,-.2,.1,-.2,-.1,-.3,-.2,.3,-.1,-.3,.2,-.5,-.8,-.9,-.7,-.5,-.8,-1,-.7,-.6,-.3,3,2,1.3,.7,.6,-.5,-1.5,-.6,-2.8,-2.9,-2.8,-2.8],
[1,1,.9,1,.9,.6,.6,.4,1.5,1.3,.8,.9,1,.6,.5,-.2,-.2,-.2,1.8,1.8,1.5,1.6,1.8,1.7,1.5,1.7,1.8,1.5,1.6,1.2,.6,.5,.6,-.4,-1,-1.5,-2.4,-2.8,-2,-3.5],
[2,2,1.8,1.7,1.8,1.6,1.5,2,1.8,1.6,1.2,1.5,1.7,1.8,1.2,2,1.3,1,2.2,2.3,2.1,1.8,2.1,2.2,1.8,1.7,1.5,1.8,.5,-.6,-1,.2,-1.2,-.6,-1.8,-1.6,-2.2,-2,-2.3,-2.4],
[2.6,2.4,2.5,2.3,2.5,2.6,2.7,2.8,2.5,2.6,2.8,2.5,1.5,2.5,2.7,2.4,1.8,1.5,3.4,3.6,3.8,3.6,3.4,3.6,3.2,3.3,3,3.1,-.5,-.8,-.6,-1.2,-.4,-1,-.5,-.9,-1.3,-1.4,-1.5,-1.4],
[2.4,2,2.2,2.4,2,2.4,2.2,1.8,1.6,1.6,1.8,1.5,1.4,1.7,.7,1.5,.5,1.6,3.4,3.3,3,3,2.8,3,2.6,2.8,2.5,2.7,-.5,-.3,-.6,-1,-.7,-1.4,-1.3,-1.5,-1.7,-1.6,-1.8,-1.9],
[2.2,1.5,.7,.5,.6,.5,.6,2.4,2.3,2.4,2.2,2.3,2,1.8,2.2,2,2,1.9,2.3,2.4,2.6,2.5,2.3,2.4,2.2,2.4,2.5,2.3,-1,-1.8,-.6,-.8,-1.6,-1,-.5,-2.6,-1.5,-2,-1.5,-2.2],
[.8,.9,.7,.6,1,1,.8,.7,.5,.2,1,-.8,.3,1.3,1,.3,.6,.7,-2,-2.4,-2.6,-2.2,-2.6,-3,-3,-3.1,-3,-3,-.3,-.8,-.5,.2,-.7,-1.2,-2.6,3,2.4,3.4,.4,.2]];
const day3=[[3,3.2,2.6,2.4,2,1.8,1.6,1.4,-.3,.5,-1.2,-1,-.3,-.5,-1,-1,-1.1,-1.2,-1,-1.3,-1.2,-1,-.9,-1.1,-1.2,-1.3,-1.3,-1.4,-1.4,-1.3,-1.3,-1.2,-1,-1.4,-1.5,-.6,-.8,-1.4,-1.5,-1.3],
[1.3,1.5,1,1.2,.8,.5,.7,1,-.3,.6,.2,-.7,.4,.5,1,.8,-.3,-.8,.5,-.5,-.5,-1.5,-1.5,-1,-.7,-1.3,2.8,1.4,1,-.3,-.6,-.9,-1,-.4,-.6,-1.2,-.8,-1.8,-2.4,-.3],
[1,1.5,1.2,1.4,1.7,1.2,.9,.7,1,-.4,-.9,-.7,.2,-.3,-.4,.3,-.2,-.7,-.3,3,.2,-.8,-.5,-.9,.1,-.7,-.3,-.2,-.5,-.9,-.4,-.8,-.3,-1,-.9,-.3,-.9,-1.2,-2.5,-2.7],
[.8,1,.7,1.2,.9,.7,.6,.5,.7,.3,-.4,-.8,-.3,-.6,-1,-1.2,-1,-1.2,-1.6,-1,-1.8,2.4,-.9,-1,-1.2,-.9,-1,-1.1,-1.2,-.8,-.9,-.7,-1,-1,-.5,-1.2,-1,-1.2,-3,-3.5],
[2,1.8,1,.5,1.6,1.7,1.2,.8,.5,-.2,.9,.3,1,1.2,1,1.4,.8,.2,-1,.1,-1.2,.2,-1.4,-1.1,-1,-1.4,-.9,-1.2,-1.6,-2.2,-1.6,-2,-2.3,1.4,-.4,-1,-1.6,-2,-2.2,-2.4],
[1,.8,-.3,.1,-.2,1,.6,1,.8,.5,.6,-.5,1,.8,.4,.6,-.1,-.4,-.6,-.2,-.5,-1.2,-.8,-.7,-1,-.9,-.6,-1,-.8,-1.2,-1,-.8,-1.2,-1.1,-.4,-.8,-1,-1.2,-1.3,-1.3],
[3.4,3.2,2.2,1.6,1.8,2,2.1,2.2,2.4,.4,-.2,2,1.6,1.8,2,1.8,-.3,.6,.8,-1,-1.1,-1,-1,-1,-.9,-1.2,-1,-1,-1.1,-1.2,-1.1,-.2,-.4,-.9,-1,-1.1,-1,-1.5,-1.7,-1.7],
[1.2,1,.7,2,2,2,2.1,1.6,1.5,1.6,1.9,2.3,2.2,2.1,2,1.7,1.2,1.5,1.3,-.6,-.3,.6,-.4,.5,.3,.6,-1,-1.2,-1,-1.4,-1.5,-1.2,-.3,.8,-.9,-.9,-1.3,-1.6,-1.8,-1.9],
[3,2.8,2.4,2.2,1.4,1.2,1,.8,.5,1,-.2,2.5,2.3,2.2,2,2,1.8,1.6,1.8,-3,.2,.8,1,.6,.4,.7,.5,.4,.9,-.4,.6,.3,-.8,-1.5,-1.9,-1.8,-.9,-1.2,-3,-.4]];
const day7=[[2,1.8,.3,.8,1,-1,-1.2,-1.2,-1,1.2,1,1.4,1.6,1.6,1.2,.4,.2,.3,.8,.5,.2,-.3,-.6,-.3,.2,-.5,-.2,-.8,-.6,-.2,-.9,-1,-1,-1.1,-1.2,-.8,-1,-1.7,-1.7,-1.7],
[3.2,1.8,.4,-.3,1.4,1,.4,3,.8,.6,1,.8,1.2,1,1.4,.5,.4,.6,1.3,1.8,.8,.6,-.8,-1,-.5,-1.2,-.5,-1.3,-.9,-1.2,-.6,-.8,-1,-1.2,-.7,-.5,-1,3,-2.4,-2.5],
[2.2,2,.6,.2,1,1.6,.8,2.2,1,1.8,1.9,2.1,2,1.5,1.3,.7,.6,1,.4,.9,1.2,.4,-.7,-.4,-1,-1.4,-.9,-.4,-.8,-.5,-.9,-1,-1.2,-1.1,-.6,-.7,-.9,-2.6,-2.6,-2.7],
[2.8,2.8,-.2,-.6,-.3,-1.2,-1.3,1.3,1.2,1.3,1.2,1.4,1.1,1.2,1,1.2,1,.6,.5,.9,.7,.8,-.5,-.7,-.6,-.9,-.3,-.5,-.9,-.4,-.9,-.8,-1,-1.1,-.9,-.8,-1,-3.5,-3.8,-3],
[1,.8,1,-1,-2.2,-1.4,-1.6,.9,1.2,-1.5,.5,-.3,-.6,-.8,.3,-1,-.4,-.6,.5,2.5,-2,-2.2,-2.4,-2,-1.5,-.5,-1.2,-.6,-1.3,-.8,-1.1,-2.4,-2,-2.6,-2.3,-.9,-1,-2.7,-2.8,-2.7],
[1,2,.2,-.3,-1,-.8,-1,-.9,-1.2,-.5,-1.2,-1,-.6,-1.2,-1.3,-1.3,-1.2,-1.3,-1.4,-1.2,-1.5,-1.5,-1.6,-1.2,-1.3,-.8,-1.2,-1.1,-1.4,-1,-.8,-1.3,-1.2,-.5,-.6,-.7,-1,-1.5,-1.5,-1.5],
[1.4,-.3,1.2,-1.2,-.6,-1.4,-.5,-1.2,-.6,-1,-.7,-.9,-1.2,-.8,-.6,-.7,-.5,-1,-1.3,-1,-1,-.9,-1.3,-.9,-1.1,-1,-1.2,-1.4,-1,-.8,-1,-1.1,-1.2,-1.3,-1.2,-1,-1.2,-1.9,-2,-2.1],
[1.4,.6,.2,1.2,-.8,-1.3,-1.8,-.6,.6,-.4,-1,-.8,-.6,-1.3,-.9,-.4,-.8,-1.1,-1.8,-1.5,-2,-2.2,-1.8,-1.2,-1.6,-2.2,-1.3,-1.8,-.2,-1.6,-1.4,-2,-1.5,-1.7,-1.8,-.6,-1.3,-2.2,-2.4,-2.6],
[1,.6,1.4,2,2.8,1.5,2.6,-.8,-1.2,-.5,.2,-1,-.9,-.4,-1.1,-1.2,-.6,-2.3,-1.3,-.3,-.7,-2.6,.5,.4,.5,1.2,-.5,.3,.2,-1,-.4,1.2,.8,.4,.3,-.3,.5,-3.4,2.6,1.2]];
const stripNaive=[[4,5],[5,12],[0,10],[2,15],[0,55],[4,3],[0,57],[4,3],[0,25],[11,17],[2,3],[0,37],[4,4],[0,3],[2,17],[0,25],[9,8],[0,30],[2,18],[0,2],[1,12],[0,5],[1,10],[0,3],[9,2],[1,8],[9,5],[1,15],[9,2],[1,5],[4,7],[0,32],[4,10],[1,48],[0,27],[9,24],[0,12],[1,6],[2,8],[1,35],[4,7],[6,129]];
const stripDay1=[[5,108],[4,2],[7,20],[5,30],[0,6],[4,6],[5,6],[0,6],[5,6],[0,5],[5,2],[1,3],[5,4],[7,108],[4,10],[0,30],[4,3],[0,4],[9,8],[2,5],[1,3],[0,8],[1,4],[6,4],[1,20],[4,10],[6,18],[10,10],[6,18]];
const stripDay3=[[8,22],[5,4],[8,3],[0,6],[8,3],[0,4],[9,2],[0,4],[11,3],[8,2],[11,4],[3,2],[8,1],[3,2],[8,4],[3,20],[1,1],[2,1],[2,3],[0,3],[2,3],[9,2],[2,2],[3,17],[8,2],[3,17],[2,13],[1,3],[4,1],[1,3],[2,2],[4,1],[2,11],[0,4],[1,51],[0,11],[4,1],[1,3],[4,1],[0,2],[1,5],[0,1],[4,6],[6,3]];
const stripDay7=[[0,20],[4,2],[0,20],[2,57],[0,20],[1,3],[0,28],[1,12],[9,8],[0,42],[8,2],[0,42],[4,4],[1,6],[2,10],[1,24],[4,6],[0,8],[1,5],[0,12],[1,4],[0,5],[1,6],[4,10],[0,5],[1,38],[4,14],[6,30]];
const linksTop=[[116,142.7,94,318.7,38],[94,92.7,26,193.3,83],[83,146,66,241,51],[66,118.7,49,169.3,26],[49,99.3,26,138.3,41],[51,179.3,30,280,41],[38,304,16,341.7,26],[41,270,25,293,25],[33,195,20,240,20],[30,148,15,165,15],[115,440,60,539,97],[60,393,55,487,35],[55,365,30,427,38],[35,453,25,498,20],[97,516,77,562,55],[77,508,50,549,50],[55,553,30,570,30],[30,372,14,405,16],[110,703,93,846,50],[93,637,75,770,65],[75,596,60,667,55],[65,743,45,796,50],[55,640,30,690,40],[50,843,25,849,25],[35,815,20,841,20],[40,745,25,800,25],[30,700,18,730,15],[60,590,30,622,30],[110,893,82,1045,37],[82,858,32,928,65],[65,875,30,978,52],[52,942,40,1017,30],[32,855,20,875,15],[37,1038,25,1050,20],[40,915,25,960,25],[30,985,20,1020,15]];
const linksLeft=[[32,2.5,0,3.5,0],[37,1.5,0,3,32],[50,.5,0,2.25,37],[32,5.5,0,6.5,0],[35,5.98,32,7.5,0],[47,4.5,0,6.72,35],[80,5.6,47,8.5,0],[92,1.37,50,7.06,80]];
const combNaive=[22,14,28,18,12,26,20,10,16,24,12,22,14,26,10,18,24,12,16,28,14,20,10,24,16,12,26,18,14,22,10,16,28,12,20,24,14,10,18,26,12,22,16,14,24,18,10,20,14,24,12,22,16,26,10,18,14,20,12,28];
const combDay1=[16,26,12,20,24,10,18,28,14,12,22,16,26,10,20,14,24,12,18,16,28,10,22,14,12,24,18,26,16,10,20,14,28,12,24,18,10,22,16,26,14,20,12,24,18,28,14,20,12,24];
const combDay3=[18,12,24,14,28,10,20,16,26,12,18,22,10,24,14,16,28,12,20,10,26,18,14,22,12,24,16,10,28,14,20,18,12,26,16,22,10,24,14,20,12,28,16,18,10,26,14,22,12,20,16,24,10,28,14,18];
const combDay7=[22,12,26,16,10,24,18,14,28,12,20,16,24,10,18,26,14,12,22,16,28,10,20,14,24,18,12,26,16,22,10,24,14,28,12,20,16,22,10,24];
const stopsD=[[-4,"#3953a4"],[-2.8,"#5a55a6"],[-2,"#7b6bb2"],[-1.5,"#9b87c1"],[-1,"#bcaed6"],[-.5,"#ddd5ea"],[0,"#ffffff"],[.5,"#fedccf"],[1,"#fcb69e"],[2,"#f67a5c"],[3,"#ef3a2b"],[4,"#ed1c24"]];
const levelsD=[-4.3,-3.8,-3.2,-2.8,-2.4,-2,-1.6,-1.2,-.8,-.4,0,.4,.8,1.2,1.6,2,2.4,2.8,3.2,3.6,4,4.3];

/* ---------- helpers ---------- */
Chart.defaults.animation=false;
Chart.defaults.events=[];
Chart.defaults.font.family='"Liberation Sans",Arial,sans-serif';
Chart.defaults.color="#111";
Chart.defaults.plugins.legend.display=false;
Chart.defaults.plugins.tooltip.enabled=false;
const hex=h=>[parseInt(h.slice(1,3),16),parseInt(h.slice(3,5),16),parseInt(h.slice(5,7),16)];
function ramp(stops){return v=>{
  if(v<=stops[0][0])return stops[0][1];
  for(let i=1;i<stops.length;i++){if(v<=stops[i][0]){
    const t=(v-stops[i-1][0])/(stops[i][0]-stops[i-1][0]),a=hex(stops[i-1][1]),b=hex(stops[i][1]);
    return `rgb(${a.map((c,k)=>Math.round(c+(b[k]-c)*t)).join(",")})`;}}
  return stops[stops.length-1][1];};}
function text(s,x,y,o={}){const d=document.createElement("div");d.className="t";d.textContent=s;
  const ax=o.anchor==="left"?"0":o.anchor==="right"?"-100%":"-50%";
  d.style.cssText=`left:${x}px;top:${y}px;font-size:${o.size||14}px;color:${o.color||"#111"};font-weight:${o.bold?"bold":"normal"};font-style:${o.italic?"italic":"normal"};transform:translate(${ax},-50%) rotate(${o.rot||0}deg);`;
  document.body.appendChild(d);}
function box(c,x,y,w,h){const d=document.createElement("div");d.className="b";d.style.cssText=`left:${x}px;top:${y}px;width:${w}px;height:${h}px;background:${c}`;document.body.appendChild(d);}
function mk(x,y,w,h,cfg,css){const d=document.createElement("div");d.className="c";d.style.cssText=`left:${x}px;top:${y}px;width:${w}px;height:${h}px;${css||""}`;
  const c=document.createElement("canvas");c.width=w;c.height=h;c.style.width=w+"px";c.style.height=h+"px";d.appendChild(c);document.body.appendChild(d);
  cfg.options=Object.assign({responsive:false,maintainAspectRatio:false,devicePixelRatio:1},cfg.options||{});
  return new Chart(c,cfg);}
function rowSets(rows,color,extra){return rows.map((r,i)=>Object.assign({data:r.map(v=>v===null?null:[i,i+1]),backgroundColor:r.map(v=>v===null?"rgba(0,0,0,0)":color(v)),barPercentage:1,categoryPercentage:1,grouped:false},extra||{}));}
const noPadY=s=>{s.paddingTop=0;s.paddingBottom=0;};
function colorBar(x,y,w,h,min,max,levels,ticks,color,size){
  const sets=levels.slice(0,-1).map((l,i)=>({data:[[l,levels[i+1]]],backgroundColor:color((l+levels[i+1])/2),barPercentage:1,categoryPercentage:1,grouped:false}));
  const m=10;
  mk(x,y-m,w+30,h+2*m,{type:"bar",data:{labels:[""],datasets:sets},options:{layout:{padding:{top:m,bottom:m}},scales:{
    x:{display:false},
    y:{position:"right",min,max,afterFit:s=>{s.width=30;noPadY(s);},afterBuildTicks:s=>{s.ticks=ticks.map(v=>({value:v}));},
      ticks:{padding:3,autoSkip:false,font:{size},color:"#111",callback:v=>String(v).replace("-","−")},
      grid:{z:1,color:"#fff",drawTicks:false,lineWidth:1},border:{display:false,dash:[3,w-6]}}}}});
}

/* ---------- panel a chart ---------- */
const colorA=ramp(stopsA);
mk(0,0,1226,490,{type:"bar",data:{labels:genes,datasets:rowSets(exprRows,colorA)},options:{
  layout:{padding:{top:17}},
  scales:{
    x:{offset:true,afterFit:s=>{s.height=54;s.paddingLeft=0;s.paddingRight=0;s._getXAxisLabelAlignment=()=>"left";},
       grid:{display:false,drawTicks:false},border:{display:false},
       ticks:{autoSkip:false,minRotation:-90,maxRotation:-90,padding:4,font:{size:9},color:"#333"}},
    y:{reverse:true,min:0,max:20,afterFit:s=>{s.width=216;noPadY(s);},afterBuildTicks:s=>{s.ticks=clusterNames.map((c,i)=>({value:i+.5}));},
       grid:{display:false,drawTicks:false},border:{display:false},
       ticks:{autoSkip:false,padding:3,font:{size:16},color:"#111",callback:(v,i)=>clusterNames[i]}}
  }}});
text("Scaled Expr",1245,62,{anchor:"left",size:13,bold:true});
colorBar(1245,72,16,62,-2.32,4.29,levelsA,[-2,0,2,4],colorA,14);
text("a",10,9,{anchor:"left",size:36,bold:true});

/* ---------- panel b charts ---------- */
function umap(x,y,blobs,dots){
  const sets=blobs.map(b=>{const pts=[];for(let i=0;i<b[1].length;i+=2)pts.push({x:b[1][i],y:b[1][i+1]});pts.push(pts[0]);
    const c=umapColors[b[0]];return {data:pts,showLine:true,fill:"shape",backgroundColor:c,borderColor:c,borderWidth:5,borderJoinStyle:"round",borderCapStyle:"round",pointRadius:0,tension:.4};});
  sets.push({data:dots.map(d=>({x:d[1],y:d[2]})),backgroundColor:dots.map(d=>umapColors[d[0]]),pointBackgroundColor:dots.map(d=>umapColors[d[0]]),pointRadius:1.9,pointBorderWidth:0,showLine:false});
  mk(x,y,227,229,{type:"scatter",data:{datasets:sets},options:{scales:{x:{display:false,min:0,max:100},y:{display:false,min:0,max:100,reverse:true}}}},"outline:1px solid #c4c4c4;");
}
const colX=[66,304,541,779],rowY=[557,797];
umap(colX[0],rowY[0],blobsM0,dotsM0);
umap(colX[1],rowY[0],blobsD1m,dotsD1m);
umap(colX[2],rowY[0],blobsD3m,dotsD3m);
umap(colX[3],rowY[0],blobsD7m,dotsD7m);
umap(colX[0],rowY[1],blobsY0,dotsY0);
umap(colX[1],rowY[1],blobsY1,dotsY1);
umap(colX[2],rowY[1],blobsY3,dotsY3);
umap(colX[3],rowY[1],blobsY7,dotsY7);
[["Day 0",181],["Day 1",416],["Day 3",654],["Day 7",891]].forEach(d=>text(d[0],d[1],540,{size:18}));
text("UMAP_2",44,790,{size:21,rot:-90});
text("UMAP_1",543,1047,{size:21});
text("mRNA",1022,686,{size:18,rot:90});
text("YF17D",1022,928,{size:18,rot:90});
text("b",12,505,{anchor:"left",size:36,bold:true});
umapLegend.forEach((s,i)=>{const y=574+i*23.43;box(umapColors[i],1060,y-6.5,10,13);
  box("#fff",1064.5,y-3,1,1);box("#fff",1064.5,y,1,1);box("#fff",1064.5,y+3,1,1);
  text(s,1089,y,{anchor:"left",size:18.4});});

/* ---------- panel c charts ---------- */
const colorC=ramp(stopsC);
function nesChart(x,w,labels,rows,annot,withY,left){
  const sets=rowSets(rows,colorC,{borderColor:"#fff",borderWidth:1,borderSkipped:false});
  sets.push({data:labels.map(()=>[-1.284,-.22]),backgroundColor:annot,barPercentage:1,categoryPercentage:1,grouped:false,borderWidth:0,inflateAmount:1});
  mk(x,1090,w,330,{type:"bar",data:{labels,datasets:sets},options:{
    layout:{padding:{bottom:3}},
    scales:{
      x:{position:"top",offset:true,afterFit:s=>{s.height=206;s.paddingLeft=0;s.paddingRight=0;},
        grid:{display:false,drawTicks:false},border:{display:false},
        ticks:{autoSkip:false,minRotation:90,maxRotation:90,padding:2,labelOffset:18,font:{size:15},color:"#222"}},
      y:{display:withY,reverse:true,min:-1.284,max:6,afterFit:s=>{s.width=left;noPadY(s);},afterBuildTicks:s=>{s.ticks=pathways.map((p,i)=>({value:i+.5}));},
        grid:{display:false,drawTicks:false},border:{display:false},
        ticks:{autoSkip:false,padding:4,font:{size:15},color:"#111",callback:(v,i)=>pathways[i]}}
    }}});
}
nesChart(0,692,colsDay1,nesDay1,"#d92027",true,394);
nesChart(695,298,colsDay3,nesDay3,"#82cdf0",false,0);
nesChart(997,297,colsDay7,nesDay7,"#fae61f",false,0);
[["Day 1",555],["Day 3",857],["Day 7",1158]].forEach(d=>text(d[0],d[1],1077,{size:17.6}));
text("YF-17D",236,1139,{size:19.5,color:"#f2d900"});
text("c",11,1066,{anchor:"left",size:36,bold:true});
text("NES",1302,1208,{anchor:"left",size:12,bold:true});
colorBar(1301,1217,15,58,-5.57,10.85,levelsC,[-5,0,5,10],colorC,12);
text("day",1302,1300,{anchor:"left",size:12,bold:true});
[["D1","#d92027",1310],["D3","#82cdf0",1324],["D7","#fae61f",1338]].forEach(d=>{box(d[1],1302,d[2],13,13);text(d[0],1319,d[2]+6.5,{anchor:"left",size:12});});

/* ---------- panel d charts ---------- */
const colorD=ramp(stopsD);
function block(x,w,rows,strip){
  mk(x,1517,w,282,{type:"bar",data:{labels:rows[0].map((v,i)=>i),datasets:rowSets(rows,colorD)},options:{scales:{x:{display:false,offset:true},y:{display:false,min:0,max:9,reverse:true}}}});
  const total=strip.reduce((a,r)=>a+r[1],0);
  mk(x,1494,w,20,{type:"bar",data:{labels:[""],datasets:strip.map(r=>({data:[r[1]],backgroundColor:dClusterColors[r[0]],barPercentage:1,categoryPercentage:1,stack:"s"}))},options:{indexAxis:"y",scales:{x:{display:false,min:0,max:total,stacked:true},y:{display:false,stacked:true}}}});
}
block(91,258,naive,stripNaive);
block(353,223,day1,stripDay1);
block(579,271,day3,stripDay3);
block(855,200,day7,stripDay7);
function uLinksH(links){const p=[];links.forEach(l=>{p.push({x:l[1],y:l[2]},{x:l[1],y:l[0]},{x:l[3],y:l[0]},{x:l[3],y:l[4]},{x:NaN,y:NaN});});return p;}
function comb(arr,x,w){const p=[];const d=w/arr.length;arr.forEach((h,i)=>{const px=x+i*d;p.push({x:px,y:0},{x:px,y:h},{x:px+d*.65,y:h},{x:px+d*.65,y:0},{x:px+d,y:0});});return p;}
const lineSet=(data,c,lw)=>({data,showLine:true,borderColor:c,borderWidth:lw||1,pointRadius:0,fill:false,tension:0});
mk(88,1452,968,40,{type:"scatter",data:{datasets:[
  lineSet(uLinksH(linksTop),"#777"),lineSet(comb(combNaive,91,258),"#777",.9),lineSet(comb(combDay1,353,223),"#777",.9),lineSet(comb(combDay3,579,271),"#777",.9),lineSet(comb(combDay7,855,200),"#777",.9)]},
  options:{scales:{x:{display:false,min:88,max:1056},y:{display:false,min:0,max:120}}}});
function uLinksV(links){const p=[];links.forEach(l=>{p.push({x:l[2],y:l[1]},{x:l[0],y:l[1]},{x:l[0],y:l[3]},{x:l[4],y:l[3]},{x:NaN,y:NaN});});return p;}
mk(49,1517,40,282,{type:"scatter",data:{datasets:[lineSet(uLinksV(linksLeft),"#777")]},options:{scales:{x:{display:false,min:0,max:93,reverse:true},y:{display:false,min:0,max:9,reverse:true}}}});
text("d",11,1425,{anchor:"left",size:36,bold:true});
text("BNT162b2",66,1438,{anchor:"left",size:22,color:"#2e3192"});
text("naive",218,1440,{size:17.5});
text("Day 1",474,1440,{size:17.5});
text("Day 3",726,1440,{size:17.5});
text("Day 7",966,1440,{size:17.5});
text("cluster",1058,1505,{anchor:"left",size:16.5});
dGenes.forEach((g,i)=>text(g,1057,1533+i*31.33,{anchor:"left",size:16.6,italic:true}));
text("Scaled",1113,1514,{anchor:"left",size:14});
text("Expr",1117,1534,{anchor:"left",size:14});
colorBar(1116,1544,18,79,-4.3,4.3,levelsD,[-4,-2,0,2,4],colorD,14);
text("cluster",1173,1514,{anchor:"left",size:14});
dClusterColors.forEach((c,i)=>{const y=1526+i*15.5;box(c,1174,y,14,14);text(String(i),1193,y+7,{anchor:"left",size:14});});
</script>
</body></html>
